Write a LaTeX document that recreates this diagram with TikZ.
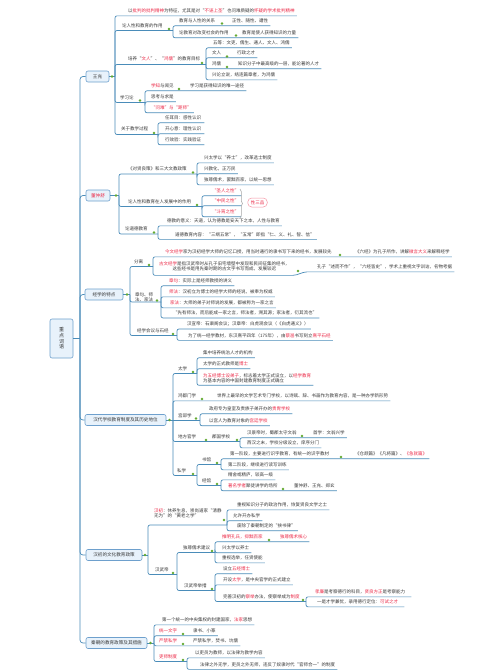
\documentclass[tikz,border=0pt]{standalone}
\usepackage{fontspec}
\newfontfamily\cjk{Noto Sans CJK SC}
\usetikzlibrary{calc,decorations.pathreplacing}
\definecolor{lblue}{RGB}{74,140,185}
\definecolor{bblue}{RGB}{110,160,205}
\definecolor{bfill}{RGB}{232,242,251}
\definecolor{hred}{RGB}{236,40,70}
\definecolor{tgray}{RGB}{55,55,55}
\definecolor{gdotc}{RGB}{100,170,50}
\newcommand\redx[1]{\textcolor{hred}{#1}}
\newcommand\ulc[3][2]{\draw[ln] (#2) |- ($(#3.south east)+(#1,2.5)$);}
\newcommand\gd[3]{\node[gdot] (#1) at (#2,#3) {};}
\begin{document}
\begin{tikzpicture}[x=1pt,y=-1pt,
 txt/.style={font=\cjk\fontsize{4.5}{5}\selectfont, text=tgray, inner sep=0pt, anchor=west},
 ln/.style={draw=lblue, line width=0.7pt, rounded corners=2pt},
 mainbox/.style={draw=bblue, fill=bfill, rounded corners=2pt, line width=0.6pt, font=\cjk\fontsize{4.6}{5}\selectfont, text=tgray, inner xsep=3pt, inner ysep=0pt, minimum height=11pt},
 gdot/.style={circle, fill=gdotc, inner sep=0pt, minimum size=2.6pt}]
\useasboundingbox (0,0) rectangle (503,670);
\fill[white] (0,0) rectangle (503,670);

% ---------- root and main boxes
\node[mainbox, align=center, inner xsep=2pt, minimum width=23pt, minimum height=39pt, font=\cjk\fontsize{5}{5.6}\selectfont] (root) at (61.5,338.5) {重\\点\\词\\语};
\coordinate (T) at (80,338.5);
\node[mainbox, minimum width=23pt] (wc) at (97.5,76.5) {王充};
\node[mainbox, text=hred, minimum width=24pt] (dz) at (98,195.5) {董仲舒};
\node[mainbox, minimum width=38pt] (jx) at (104,294.5) {经学的特点};
\node[mainbox, minimum width=81pt] (hd) at (125.5,420) {汉代学校教育制度及其历史地位};
\node[mainbox, minimum width=56pt] (hc) at (114,555) {汉初的文化教育政策};
\node[mainbox, minimum width=61pt] (qc) at (116.5,643) {秦朝的教育政策及其措施};
\draw[ln, rounded corners=3pt] (root.east) -- (T);
\foreach \b in {wc,dz,jx,hd,hc,qc} \draw[ln, rounded corners=3pt] (T) |- (\b.west);

% ---------- 王充
\coordinate (W) at (115,76.5);
\draw[ln] (wc.east) -- (W);
\node[txt] (w1) at (128,11) {以\redx{批判的批判精神}为特征，尤其是对“\redx{不诬上圣}”也问难质疑的\redx{怀疑的学术批判精神}};
\ulc{W}{w1}
\node[txt] (w2) at (122,26) {论人性和教育的作用};
\coordinate (S1) at (173,30.5);
\draw[ln] (W) |- (S1);
\node[txt] (w21) at (179,21) {教育与人性的关系};
\node[txt] (w21a) at (232,21) {正性、随性、遭性};
\ulc{S1}{w21a}
\node[txt] (w22) at (179,33) {论教育对改变社会的作用};
\node[txt] (w22a) at (242,33) {教育是使人获得知识的力量};
\ulc{S1}{w22a}
\node[txt] (w3) at (128,59) {培养“\redx{文人}”、“\redx{鸿儒}”的教育目标};
\coordinate (S2) at (206,64.5);
\draw[ln] (W) |- (S2);
\node[txt] (w31) at (213,43) {五等：文吏、儒生、通人、文人、鸿儒};
\ulc{S2}{w31}
\node[txt] (w32) at (212,53) {文人};
\node[txt] (w32a) at (237,53) {行政之才};
\ulc{S2}{w32a}
\node[txt] (w33) at (212,64) {鸿儒};
\node[txt] (w33a) at (238,64) {知识分子中最高级的一层，能论著的人才};
\ulc{S2}{w33a}
\node[txt] (w34) at (212,75) {兴论立说，结连篇章者，为鸿儒};
\ulc{S2}{w34}
\node[txt] (w4) at (120,98) {学习论};
\coordinate (S3) at (145,102.5);
\draw[ln] (W) |- (S3);
\node[txt] (w41) at (151,86) {\redx{学知}与闻见};
\node[txt] (w41a) at (190,86) {学习是获得知识的唯一途径};
\ulc{S3}{w41a}
\node[txt] (w42) at (151,97) {思考与求是};
\ulc{S3}{w42}
\node[txt] (w43) at (151,108) {\redx{“问难”与“距师”}};
\ulc{S3}{w43}
\node[txt] (w5) at (121,129) {关于教学过程};
\coordinate (S4) at (158,134.5);
\draw[ln] (W) |- (S4);
\node[txt] (w51) at (165,118) {任耳目：感性认识};
\ulc[3]{S4}{w51}
\node[txt] (w52) at (165,129) {开心意：理性认识};
\ulc[3]{S4}{w52}
\node[txt] (w53) at (165,140) {行效验：实践验证};
\ulc[3]{S4}{w53}

% ---------- 董仲舒
\coordinate (D) at (119,195.5);
\draw[ln] (dz.east) -- (D);
\node[txt] (d1) at (128,169) {《对贤良策》和三大文教政策};
\coordinate (S5) at (197,174);
\draw[ln] (D) |- (S5);
\node[txt] (d11) at (204,158) {兴太学以“养士”，改革选士制度};
\ulc{S5}{d11}
\node[txt] (d12) at (204,169) {兴教化，正万民};
\ulc{S5}{d12}
\node[txt] (d13) at (204,180) {独尊儒术，罢黜百家，以统一思想};
\ulc{S5}{d13}
\node[txt] (d2) at (128,202) {论人性和教育在人发展中的作用};
\coordinate (S6) at (202,206.5);
\draw[ln] (D) |- (S6);
\node[txt] (d21) at (212,191) {\redx{“圣人之性”}};
\ulc{S6}{d21}
\node[txt] (d22) at (212,201) {\redx{“中民之性”}};
\ulc{S6}{d22}
\node[txt] (d23) at (212,212) {\redx{“斗筲之性”}};
\ulc{S6}{d23}
\draw[decorate, decoration={brace,amplitude=2.5pt}, draw=gray!70, line width=0.5pt] (240,189) -- (240,218);
\node[draw=hred!50, rounded corners=4pt, text=hred, font=\cjk\fontsize{4.5}{5}\selectfont, inner xsep=3pt, inner ysep=0pt, minimum height=9pt, line width=0.5pt] (sp) at (257.5,202.5) {性三品};
\node[txt] (d3) at (125,229) {论道德教育};
\coordinate (S7) at (158,234);
\draw[ln] (D) |- (S7);
\node[txt] (d31) at (167,221) {德教的意义：天道，认为德教是安天下之本，人性与教育};
\ulc{S7}{d31}
\node[txt] (d32) at (175,234.5) {道德教育内容：“三纲五常”，“五常”即指“仁、义、礼、智、信”};
\ulc{S7}{d32}

% ---------- 经学的特点
\coordinate (J) at (130,294.5);
\draw[ln] (jx.east) -- (J);
\node[txt] (j1) at (134,262) {分离};
\coordinate (S8) at (153,266.5);
\draw[ln] (J) |- (S8);
\node[txt] (j11) at (165,252) {\redx{今文经学}家为汉初经学大师的记忆口授，用当时通行的隶书写下来的经书，发展较先};
\node[txt] (j11a) at (355,252) {《六经》为孔子所作，讲解\redx{微言大义}来解释经学};
\ulc{S8}{j11a}
\node[txt, align=center] (j12) at (159,266) {\redx{古文经学}是指汉武帝时从孔子旧宅墙壁中发现和民间征集的经书，\\这些经书是用先秦时期的古文字书写而成，发展较迟};
\node[txt] (j12a) at (317,267) {孔子“述而不作”，“六经皆史”，学术上重视文字训诂，名物考据};
\draw[ln] (S8) |- ($(j12.south east)+(5,4.5)$) -- ($(j12a.south west)+(-12,2.5)$) -- ($(j12a.south east)+(2,2.5)$);
\node[txt, align=center] (j2) at (135,297.5) {章句、师\\法、家法};
\coordinate (S9) at (161,302);
\draw[ln] (J) |- (S9);
\node[txt] (j21) at (169,281) {\redx{章句}：实际上是经师教授的讲义};
\ulc{S9}{j21}
\node[txt] (j22) at (169,292) {\redx{师法}：汉初立为博士的经学大师的经说，被奉为权威};
\ulc{S9}{j22}
\node[txt] (j23) at (170,303) {\redx{家法}：大师的弟子对师说的发展，都被称为一家之言};
\ulc{S9}{j23}
\node[txt] (j24) at (173,313) {“先有师法，而后能成一家之言，师法者，溯其源；家法者，衍其流也”};
\ulc{S9}{j24}
\node[txt] (j3) at (137,331) {经学会议与石经};
\coordinate (S10) at (177,335.5);
\draw[ln] (J) |- (S10);
\node[txt] (j31) at (187,324) {汉宣帝：石渠阁会议；汉章帝：白虎观会议（《白虎通义》）};
\ulc{S10}{j31}
\node[txt] (j32) at (188,335.5) {为了统一经学教材，东汉熹平四年（175年），由\redx{蔡邕}书写刻立\redx{熹平石经}};
\ulc{S10}{j32}

% ---------- 汉代学校
\coordinate (H) at (173,420);
\draw[ln] (hd.east) -- (H);
\node[txt] (h1) at (178,369) {太学};
\coordinate (S11) at (197,373.5);
\draw[ln] (H) |- (S11);
\node[txt] (h11) at (203,353) {集中培养统治人才的机构};
\ulc{S11}{h11}
\node[txt] (h12) at (203,364) {太学的正式教师是\redx{博士}};
\ulc{S11}{h12}
\node[txt, align=left] (h13) at (203,378) {\redx{为五经博士设弟子}，标志着太学正式设立，以\redx{经学教育}\\为基本内容的中国封建教育制度正式确立};
\ulc{S11}{h13}
\node[txt] (h2) at (178,396) {鸿都门学};
\node[txt] (h2a) at (217,396) {世界上最早的文学艺术专门学校，以诗赋、辞、书画作为教育内容，是一种办学新形势};
\ulc{H}{h2a}
\node[txt] (h3) at (178,416) {宫邸学};
\coordinate (S12) at (200,420);
\draw[ln] (H) -- (S12);
\node[txt] (h31) at (209,409) {政府专为皇室及贵族子弟开办的\redx{贵胄学校}};
\ulc{S12}{h31}
\node[txt] (h32) at (209,421) {以宫人为教育对象的\redx{宫廷学校}};
\ulc{S12}{h32}
\node[txt] (h4) at (178,437) {地方官学};
\node[txt] (h41) at (212,437) {郡国学校};
\coordinate (S13) at (240,441.5);
\draw[ln] (H) |- (S13);
\node[txt] (h411) at (247,433) {汉景帝时，蜀郡太守文翁};
\node[txt] (h411a) at (313,433) {首学：文翁兴学};
\ulc{S13}{h411a}
\node[txt] (h412) at (247,443) {西汉之末，学校分级设立，庠序分门};
\ulc{S13}{h412}
\node[txt] (h5) at (177,471) {私学};
\coordinate (S14) at (197,475.5);
\draw[ln] (H) |- (S14);
\node[txt] (h51) at (202,460) {书馆};
\coordinate (S15) at (221,464.5);
\draw[ln] (S14) |- (S15);
\node[txt] (h511) at (230,454) {第一阶段，主要进行识字教育，有统一的识字教材};
\node[txt] (h511a) at (355,454) {《仓颉篇》《凡将篇》、\redx{《急就篇》}};
\ulc{S15}{h511a}
\node[txt] (h512) at (228,465) {第二阶段，继续进行读写训练};
\ulc{S15}{h512}
\node[txt] (h52) at (202,481) {经馆};
\coordinate (S16) at (221,485.5);
\draw[ln] (S14) |- (S16);
\node[txt] (h521) at (228,475) {精舍或精庐，较高一级};
\ulc{S16}{h521}
\node[txt] (h522) at (228,486) {\redx{著名学者}聚徒讲学的场所};
\node[txt] (h522a) at (294,486) {董仲舒、王充、郑玄};
\ulc{S16}{h522a}

% ---------- 汉初
\coordinate (C) at (148,555);
\draw[ln] (hc.east) -- (C);
\node[txt, align=left] (c1) at (154,513.5) {\redx{汉初}：休养生息，崇尚道家“清静\\无为”的“黄老之学”};
\coordinate (S17) at (227,525);
\draw[ln] (C) |- (S17);
\node[txt] (c11) at (237,505) {重视知识分子的政治作用，恢复贤良文学之士};
\ulc{S17}{c11}
\node[txt] (c12) at (233,516) {允许开办私学};
\ulc{S17}{c12}
\node[txt] (c13) at (237,526) {废除了秦朝制定的“挟书律”};
\ulc{S17}{c13}
\node[txt] (c2) at (155,570) {汉武帝};
\coordinate (S18) at (177,574.5);
\draw[ln] (C) |- (S18);
\node[txt] (c21) at (183,548) {独尊儒术建议};
\coordinate (S19) at (215,552.5);
\draw[ln] (S18) |- (S19);
\node[txt] (c211) at (222,537) {\redx{推明孔氏，抑黜百家}};
\node[txt] (c211a) at (280,537) {\redx{独尊儒术核心}};
\ulc{S19}{c211a}
\node[txt] (c212) at (222,548) {兴太学以养士};
\ulc{S19}{c212}
\node[txt] (c213) at (222,558) {重视选举，任贤使能};
\ulc{S19}{c213}
\node[txt] (c22) at (184,586) {汉武帝举措};
\coordinate (S20) at (215,590.5);
\draw[ln] (S18) |- (S20);
\node[txt] (c221) at (223,569) {设立\redx{五经博士}};
\ulc{S20}{c221}
\node[txt] (c222) at (223,580) {开设\redx{太学}，是中央官学的正式建立};
\ulc{S20}{c222}
\node[txt] (c223) at (223,597) {完善汉初的\redx{察举}办法，使察举成为\redx{制度}};
\coordinate (S21) at (306,601.5);
\draw[ln] (S20) |- (S21);
\node[txt] (c2231) at (315,592) {\redx{孝廉}是考察德行的科目，\redx{贤良方正}是考察能力};
\ulc[6]{S21}{c2231}
\node[txt] (c2232) at (317,602) {一是才学兼优，录用德行定位：\redx{可试之才}};
\ulc[6]{S21}{c2232}

% ---------- 秦朝
\coordinate (Q) at (154,643);
\draw[ln] (qc.east) -- (Q);
\node[txt] (q1) at (162,620) {第一个统一的中央集权的封建国家，\redx{法家}思想};
\ulc{Q}{q1}
\node[txt] (q2) at (159,631) {\redx{统一文字}};
\node[txt] (q2a) at (193,631) {隶书、小篆};
\ulc{Q}{q2a}
\node[txt] (q3) at (159,641) {\redx{严禁私学}};
\node[txt] (q3a) at (193,641) {严禁私学，焚书、坑儒};
\ulc{Q}{q3a}
\node[txt] (q4) at (159,657) {\redx{吏师制度}};
\coordinate (S22) at (187,661.5);
\draw[ln] (Q) |- (S22);
\node[txt] (q41) at (195,653) {以吏员为教师，以法律为教学内容};
\ulc{S22}{q41}
\node[txt] (q42) at (200,664.5) {法律之外无学，吏员之外无师，违反了奴隶时代“官师合一”的制度};
\ulc{S22}{q42}

% ---------- green markers
\gd{g1}{112}{76.5}\gd{g2}{127}{294.5}\gd{g3}{116}{195.5}\gd{g4}{169.5}{420}\gd{g5}{145}{555}\gd{g6}{150.5}{643}
\gd{g7}{169}{29}\gd{g8}{222}{23.5}\gd{g9}{236}{35.5}\gd{g10}{202}{63}\gd{g11}{227}{56.5}\gd{g12}{227}{67}
\gd{g13}{140}{100.5}\gd{g14}{179}{89}\gd{g15}{154}{133}
\gd{g16}{193}{172.5}\gd{g17}{197}{205}\gd{g18}{154}{232.5}
\gd{g19}{149}{265}\gd{g20}{340}{255}\gd{g21}{298}{271}\gd{g22}{157}{300.5}\gd{g23}{173}{334}
\gd{g24}{193}{372}\gd{g25}{202}{399}\gd{g26}{196}{418.5}\gd{g27}{206}{440}\gd{g28}{237}{440}\gd{g29}{302}{436}
\gd{g30}{193}{474}\gd{g31}{217}{463}\gd{g32}{341}{457}\gd{g33}{217}{484}\gd{g34}{283}{489}
\gd{g35}{224}{520}\gd{g36}{173}{573}\gd{g37}{212}{551}\gd{g38}{269}{540}\gd{g39}{212}{589}\gd{g40}{303}{600}
\gd{g41}{183}{634}\gd{g42}{183}{644}\gd{g43}{183}{660}
\end{tikzpicture}
\end{document}
